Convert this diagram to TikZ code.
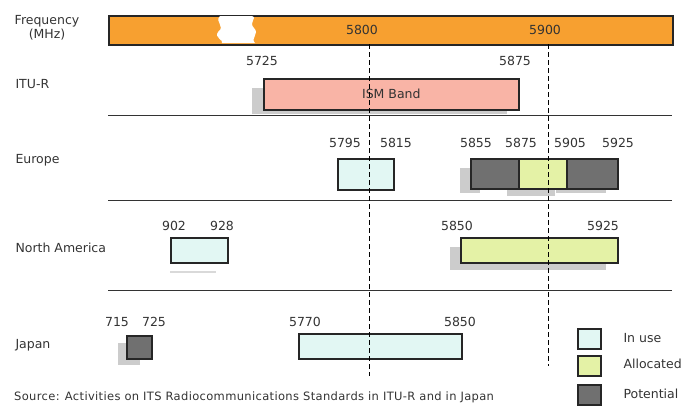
\documentclass[tikz,border=0pt]{standalone}
\usepackage{fontspec}
\setmainfont{DejaVu Sans}
\begin{document}
\begin{tikzpicture}[x=1pt,y=-1pt,
 lbl/.style={font=\fontsize{12.5}{14}\selectfont,text=black!80},
 bar/.style={draw=black!85,line width=1.6pt},
 shd/.style={fill=black!20,draw=none},
 sep/.style={draw=black!80,line width=1pt},
 dsh/.style={draw=black,line width=1pt,dash pattern=on 5pt off 3pt}]
\useasboundingbox (0,0) rectangle (696,413);
\definecolor{orng}{HTML}{F7A030}
\definecolor{pnk}{HTML}{F9B4A6}
\definecolor{cyn}{HTML}{E2F7F3}
\definecolor{ylw}{HTML}{E4F2A6}
\definecolor{drk}{HTML}{707070}
% frequency bar
\node[bar,fill=orng,minimum width=564pt,minimum height=29pt,inner sep=0,anchor=north west] (fb) at (108,15) {};
\fill[white] (220,16) .. controls (214,22) and (226,26) .. (218,32) .. controls (214,38) and (224,40) .. (222,43) -- (255,43) .. controls (250,38) and (260,34) .. (254,28) .. controls (248,22) and (258,18) .. (252,16) -- cycle;
\node[lbl,align=center] (fq) at (47,28) {Frequency\\(MHz)};
\node[lbl] (f58) at (362,30) {5800};
\node[lbl] (f59) at (545,30) {5900};
\coordinate (d1a) at (369,44); \coordinate (d1b) at (369,376);
\coordinate (d2a) at (548,44); \coordinate (d2b) at (548,366);
% separators
\coordinate (s1a) at (108,115); \coordinate (s1b) at (672,115);
\coordinate (s2a) at (108,200); \coordinate (s2b) at (672,200);
\coordinate (s3a) at (108,290); \coordinate (s3b) at (672,290);
\draw[sep] (s1a) -- (s1b); \draw[sep] (s2a) -- (s2b); \draw[sep] (s3a) -- (s3b);
% ITU-R
\node[lbl,anchor=west] (itu) at (12,84) {ITU-R};
\node[lbl] (i1) at (262,61) {5725};
\node[lbl] (i2) at (515,61) {5875};
\fill[shd] (252,88) rectangle (507,114);
\node[bar,fill=pnk,minimum width=255pt,minimum height=31pt,inner sep=0,anchor=north west,lbl] (ism) at (263,78) {ISM Band};
% Europe
\node[lbl,anchor=west] (eu) at (12,160) {Europe};
\node[lbl] (e1) at (345,143) {5795};
\node[lbl] (e2) at (396,143) {5815};
\node[lbl] (e3) at (476,143) {5855};
\node[lbl] (e4) at (521,143) {5875};
\node[lbl] (e5) at (570,143) {5905};
\node[lbl] (e6) at (618,143) {5925};
\node[bar,fill=cyn,minimum width=56pt,minimum height=31pt,inner sep=0,anchor=north west] (eb1) at (337,158) {};
\fill[shd] (460,168) rectangle (480,193);
\fill[shd] (507,188) rectangle (555,196);
\fill[shd] (556,188) rectangle (606,193);
\node[bar,fill=drk,minimum width=48pt,minimum height=30pt,inner sep=0,anchor=north west] (eb2) at (470,158) {};
\node[bar,fill=ylw,minimum width=48pt,minimum height=30pt,inner sep=0,anchor=north west] (eb3) at (518,158) {};
\node[bar,fill=drk,minimum width=51pt,minimum height=30pt,inner sep=0,anchor=north west] (eb4) at (566,158) {};
% North America
\node[lbl,anchor=west] (na) at (12,248) {North America};
\node[lbl] (n1) at (174,226) {902};
\node[lbl] (n2) at (222,226) {928};
\node[lbl] (n3) at (457,226) {5850};
\node[lbl] (n4) at (603,226) {5925};
\fill[black!15] (170,271) rectangle (216,273);
\node[bar,fill=cyn,minimum width=57pt,minimum height=25pt,inner sep=0,anchor=north west] (nb1) at (170,237) {};
\fill[shd] (450,247) rectangle (606,270);
\node[bar,fill=ylw,minimum width=157pt,minimum height=25pt,inner sep=0,anchor=north west] (nb2) at (460,237) {};
% Japan
\node[lbl,anchor=west] (jp) at (12,345) {Japan};
\node[lbl] (j1) at (117,322) {715};
\node[lbl] (j2) at (154,322) {725};
\node[lbl] (j3) at (305,322) {5770};
\node[lbl] (j4) at (460,322) {5850};
\fill[shd] (118,343) rectangle (140,365);
\node[bar,fill=drk,minimum width=25pt,minimum height=23pt,inner sep=0,anchor=north west] (jb1) at (126,335) {};
\node[bar,fill=cyn,minimum width=163pt,minimum height=25pt,inner sep=0,anchor=north west] (jb2) at (298,333) {};
% dashed lines
\draw[dsh] (d1a) -- (d1b);
\draw[dsh] (d2a) -- (d2b);
% legend
\node[bar,fill=cyn,minimum width=23pt,minimum height=20pt,inner sep=0,anchor=north west] (lg1) at (577,328) {};
\node[bar,fill=ylw,minimum width=23pt,minimum height=20pt,inner sep=0,anchor=north west] (lg2) at (577,355) {};
\node[bar,fill=drk,minimum width=23pt,minimum height=20pt,inner sep=0,anchor=north west] (lg3) at (577,384) {};
\node[lbl,anchor=west] (t1) at (620,338) {In use};
\node[lbl,anchor=west] (t2) at (620,364) {Allocated};
\node[lbl,anchor=west] (t3) at (620,394) {Potential};
\node[font=\fontsize{11.5}{13}\selectfont,anchor=west,text=black!80,inner sep=0] (src) at (14,397) {\addfontfeatures{LetterSpace=3}Source: Activities on ITS Radiocommunications Standards in ITU-R and in Japan};
\end{tikzpicture}
\end{document}
